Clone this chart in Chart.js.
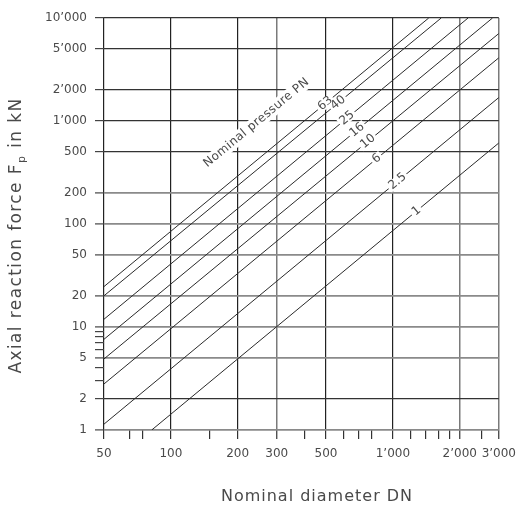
<!DOCTYPE html>
<html><head><meta charset="utf-8">
<script src="https://cdn.jsdelivr.net/npm/chart.js@4.4.1/dist/chart.umd.min.js"></script>
<style>html,body{margin:0;padding:0;background:#fff;}canvas{display:block;}</style>
</head><body>
<canvas id="c" width="524" height="506"></canvas>
<script>
// ---- data ----
const pressureLabels = ['63', '40', '25', '16', '10', '6', '2.5', '1'];
const startDN    = [50, 50, 50, 50, 50, 50, 50, 82];
const startForce = [24.7, 20.1, 11.9, 7.6, 4.9, 2.8, 1.14, 1];
const endDN      = [1450, 1650, 2180, 2810, 3000, 3000, 3000, 3000];
const endForce   = [10000, 10000, 10000, 10000, 7070, 4110, 1690, 612];
const xMajorTicks = [50, 100, 200, 300, 500, 1000, 2000, 3000];
const xMinorTicks = [65, 75, 150, 400, 600, 700, 800, 1200, 1400, 1600, 1800, 2500];
const yMajorTicks = [1, 2, 5, 10, 20, 50, 100, 200, 500, 1000, 2000, 5000, 10000];
const yMinorTicks = [3, 4, 6, 7, 8, 9];
const seriesTitle = 'Nominal pressure PN';
const xTitle = 'Nominal diameter DN';
const yTitleParts = ['Axial reaction force F', 'p', ' in kN'];

// ---- styling / layout ----
const FONT = "'DejaVu Sans', 'Liberation Sans', sans-serif";
const TEXT = '#4a4a4a';
const labelDN = [496, 567, 622, 690, 772, 846, 1050, 1276];
const seriesTitleAt = {x: 243, y: 960};
const yGray = new Set([1, 5, 10, 20, 50, 100, 200]);
const xGray = new Set([300, 2000, 3000]);

function fmt(v) {
  return String(v).replace(/(\d)(?=(\d{3})+$)/g, '$1\u2019');
}
function forceAt(i, dn) {
  const l0 = Math.log10(startDN[i]), l1 = Math.log10(endDN[i]);
  const f0 = Math.log10(startForce[i]), f1 = Math.log10(endForce[i]);
  return Math.pow(10, f0 + (Math.log10(dn) - l0) * (f1 - f0) / (l1 - l0));
}

const datasets = pressureLabels.map((p, i) => ({
  label: 'PN ' + p,
  data: [{x: startDN[i], y: startForce[i]}, {x: endDN[i], y: endForce[i]}],
  showLine: true,
  borderColor: '#2a2a2a',
  borderWidth: 1,
  pointRadius: 0,
  fill: false
}));

const textPlugin = {
  id: 'textPlugin',
  afterDatasetsDraw(chart) {
    const ctx = chart.ctx, xs = chart.scales.x, ys = chart.scales.y;
    function lineAngle(i) {
      const x0 = xs.getPixelForValue(startDN[i]), y0 = ys.getPixelForValue(startForce[i]);
      const x1 = xs.getPixelForValue(endDN[i]), y1 = ys.getPixelForValue(endForce[i]);
      return Math.atan2(y1 - y0, x1 - x0);
    }
    function boxed(text, px, py, ang, size, padX, halfH, spacing) {
      ctx.save();
      ctx.translate(px, py);
      ctx.rotate(ang);
      ctx.font = size + 'px ' + FONT;
      ctx.letterSpacing = spacing + 'px';
      const w = ctx.measureText(text).width;
      ctx.fillStyle = '#fff';
      ctx.fillRect(-w / 2 - padX, -halfH, w + 2 * padX, 2 * halfH);
      ctx.fillStyle = TEXT;
      ctx.textAlign = 'center';
      ctx.textBaseline = 'middle';
      ctx.fillText(text, 0, 0);
      ctx.restore();
    }
    pressureLabels.forEach((p, i) => {
      const dn = labelDN[i];
      boxed(p, xs.getPixelForValue(dn), ys.getPixelForValue(forceAt(i, dn)), lineAngle(i), 12, 2, 5, 0);
    });
    boxed(seriesTitle, xs.getPixelForValue(seriesTitleAt.x), ys.getPixelForValue(seriesTitleAt.y),
      lineAngle(0), 12, 3, 7, 0.4);

    // axis titles
    ctx.save();
    ctx.fillStyle = TEXT;
    ctx.textBaseline = 'middle';
    ctx.textAlign = 'center';
    ctx.font = '16px ' + FONT;
    ctx.letterSpacing = '1px';
    ctx.fillText(xTitle, 317, 497);
    // y title with subscript
    ctx.translate(17, 235.5);
    ctx.rotate(-Math.PI / 2);
    ctx.textAlign = 'left';
    ctx.letterSpacing = '1.4px';
    const big = '17px ' + FONT, small = '11px ' + FONT;
    ctx.font = big; const w0 = ctx.measureText(yTitleParts[0]).width;
    const w2 = ctx.measureText(yTitleParts[2]).width;
    ctx.font = small; const w1 = ctx.measureText(yTitleParts[1]).width;
    let x = -(w0 + w1 + w2) / 2;
    ctx.font = big; ctx.fillText(yTitleParts[0], x, 0); x += w0;
    ctx.font = small; ctx.fillText(yTitleParts[1], x, 5); x += w1;
    ctx.font = big; ctx.fillText(yTitleParts[2], x, 0);
    ctx.restore();
  }
};

const xAll = xMajorTicks.concat(xMinorTicks).sort((a, b) => a - b);
const yAll = yMajorTicks.concat(yMinorTicks).sort((a, b) => a - b);

new Chart(document.getElementById('c'), {
  type: 'scatter',
  data: {datasets},
  options: {
    responsive: false,
    animation: false,
    devicePixelRatio: 1,
    layout: {padding: {top: 18, right: 21, bottom: 0, left: 0}},
    plugins: {legend: {display: false}, tooltip: {enabled: false}},
    scales: {
      x: {
        type: 'logarithmic',
        min: 50, max: 3000,
        afterBuildTicks: s => { s.ticks = xAll.map(v => ({value: v})); },
        afterFit: s => { s.height = 76; },
        border: {display: false},
        grid: {
          color: c => xMajorTicks.includes(c.tick.value) ? (xGray.has(c.tick.value) ? '#7a7a7a' : '#222') : 'rgba(0,0,0,0)',
          lineWidth: c => xGray.has(c.tick.value) ? 1.5 : 1.2,
          tickColor: '#333',
          tickWidth: 1.2,
          tickLength: 9,
          drawTicks: true
        },
        ticks: {
          autoSkip: false, maxRotation: 0, minRotation: 0, padding: 8,
          color: TEXT, font: {family: FONT, size: 12},
          callback: v => xMajorTicks.includes(v) ? fmt(v) : ''
        }
      },
      y: {
        type: 'logarithmic',
        min: 1, max: 10000,
        afterBuildTicks: s => { s.ticks = yAll.map(v => ({value: v})); },
        afterFit: s => { s.width = 104; },
        border: {display: false},
        grid: {
          color: c => yMajorTicks.includes(c.tick.value) ? (yGray.has(c.tick.value) ? '#8a8a8a' : '#333') : 'rgba(0,0,0,0)',
          lineWidth: c => yGray.has(c.tick.value) ? 1.8 : 1.2,
          tickColor: '#444',
          tickWidth: 1.2,
          tickLength: 9,
          drawTicks: true
        },
        ticks: {
          autoSkip: false, padding: 8,
          color: TEXT, font: {family: FONT, size: 12},
          callback: v => yMajorTicks.includes(v) ? fmt(v) : ''
        }
      }
    }
  },
  plugins: [textPlugin]
});
</script>
</body></html>
